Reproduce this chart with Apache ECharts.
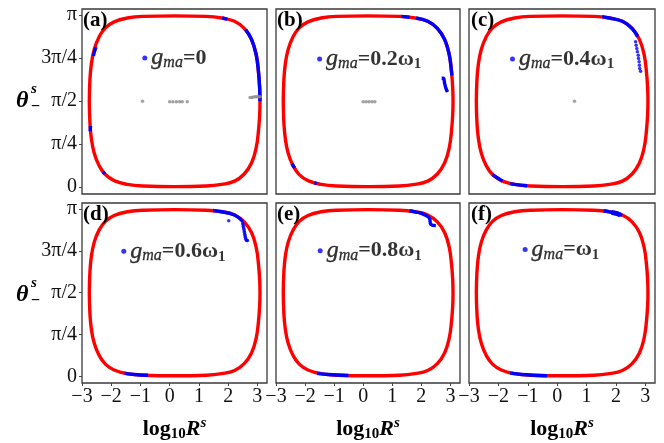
<!DOCTYPE html>
<html><head><meta charset="utf-8">
<script src="https://cdn.jsdelivr.net/npm/echarts@6/dist/echarts.min.js"></script>
<style>html,body{margin:0;padding:0;background:#fff}#c{width:664px;height:443px}</style>
</head><body><div id="c"></div>
<script>
// ---------------- data ----------------
const panelLabels = ['(a)', '(b)', '(c)', '(d)', '(e)', '(f)'];
const gmaText = ['=0', '=0.2ω', '=0.4ω', '=0.6ω', '=0.8ω', '=ω'];
const gmaSub = ['', '1', '1', '1', '1', '1'];
const xTickValues = [-3, -2, -1, 0, 1, 2, 3];
const xTickLabels = ['−3', '−2', '−1', '0', '1', '2', '3'];
const yTickValues = [0, Math.PI / 4, Math.PI / 2, 3 * Math.PI / 4, Math.PI];
const yTickLabels = ['0', 'π/4', 'π/2', '3π/4', 'π'];

// red loop (log10 R^s, theta)
const loopX = [-2.75, -2.73, -2.68, -2.58, -2.42, -2.20, -1.90, -1.45, -0.90, 0.17, 1.25, 1.78, 2.22, 2.55, 2.80, 2.96, 3.04, 3.08, 3.09,
  3.08, 3.04, 2.96, 2.80, 2.55, 2.22, 1.78, 1.25, 0.17, -0.90, -1.45, -1.90, -2.20, -2.42, -2.58, -2.68, -2.73, -2.75];
const loopY = [1.57, 1.95, 2.25, 2.52, 2.74, 2.91, 3.02, 3.09, 3.12, 3.13, 3.12, 3.09, 3.03, 2.90, 2.70, 2.42, 2.10, 1.80, 1.57,
  1.34, 1.04, 0.72, 0.44, 0.24, 0.11, 0.05, 0.02, 0.01, 0.02, 0.05, 0.12, 0.23, 0.40, 0.62, 0.89, 1.19, 1.57];

// blue segments per panel
const blueA = [
  [[-2.61, 2.40], [-2.56, 2.50], [-2.52, 2.56]],
  [[-2.72, 1.02], [-2.71, 1.12]],
  [[-2.28, 0.28], [-2.22, 0.24]],
  [[1.80, 3.09], [1.97, 3.07]],
  [[2.60, 2.88], [2.80, 2.70], [2.96, 2.42], [3.04, 2.10], [3.08, 1.80], [3.09, 1.57]]
];
const blueB = [
  [[1.31, 3.12], [1.59, 3.105]],
  [[1.82, 3.09], [2.22, 3.03], [2.55, 2.90], [2.80, 2.70], [2.96, 2.42], [3.04, 2.10], [3.05, 2.04]],
  [[2.70, 1.99], [2.76, 1.99], [2.80, 1.90], [2.85, 1.80], [2.90, 1.74]],
  [[-2.45, 0.43], [-2.36, 0.35]],
  [[-1.68, 0.08], [-1.60, 0.065]]
];
const blueC = [
  [[1.53, 3.115], [1.78, 3.09], [2.22, 3.03], [2.55, 2.90], [2.74, 2.75]],
  [[-2.20, 0.23], [-1.86, 0.11]],
  [[-1.60, 0.065], [-1.45, 0.05], [-1.02, 0.025]]
];
const blueD = [
  [[1.48, 3.115], [1.78, 3.09], [2.22, 3.03], [2.50, 2.91]],
  [[-1.54, 0.055], [-1.20, 0.035], [-0.74, 0.02]]
];
const blueE = [
  [[1.59, 3.11], [1.78, 3.09], [2.00, 3.06], [2.16, 3.02], [2.28, 2.97], [2.33, 2.85], [2.50, 2.83]],
  [[-1.59, 0.055], [-1.20, 0.035], [-0.51, 0.015]]
];
const blueF = [
  [[1.58, 3.11], [1.78, 3.09], [2.00, 3.06], [2.21, 3.02]],
  [[-1.60, 0.06], [-1.20, 0.035], [-0.35, 0.012]]
];
const blobF = [[1.85, 3.075], [2.00, 3.06], [2.15, 3.03]];

// blue dotted trails
const trailC = [[2.67, 2.655], [2.69, 2.594], [2.71, 2.534], [2.73, 2.472], [2.76, 2.412], [2.77, 2.351], [2.79, 2.289], [2.80, 2.229], [2.81, 2.169], [2.84, 2.119]];
const trailD = [[2.50, 2.88], [2.51, 2.85], [2.52, 2.82], [2.53, 2.79], [2.54, 2.76], [2.55, 2.73], [2.56, 2.70], [2.57, 2.67], [2.58, 2.64], [2.59, 2.61], [2.60, 2.58], [2.62, 2.56], [2.64, 2.55], [2.66, 2.55], [2.02, 2.92]];

// gray points
const grayA = [[-0.93, 1.57], [0.00, 1.56], [0.11, 1.56], [0.23, 1.56], [0.34, 1.56], [0.43, 1.56], [0.60, 1.56],
  [2.75, 1.64], [2.81, 1.64], [2.87, 1.645], [2.93, 1.65], [2.99, 1.65], [3.05, 1.65], [3.10, 1.65]];
const grayB = [[0.00, 1.56], [0.10, 1.56], [0.20, 1.56], [0.30, 1.56], [0.40, 1.56]];
const grayC = [[0.59, 1.57]];

// ---------------- layout ----------------
const blues = [blueA, blueB, blueC, blueD, blueE, blueF];
const trails = [null, null, trailC, trailD, null, null];
const grays = [grayA, grayB, grayC, null, null, null];
const legendAt = [[-0.85, 2.36], [-1.50, 2.34], [-1.52, 2.34], [-1.57, 2.35], [-1.48, 2.36], [-1.09, 2.38]];
const gridBoxes = [
  {left: 82, top: 9, width: 185, height: 185},
  {left: 276, top: 9, width: 184, height: 185},
  {left: 469, top: 9, width: 186, height: 185},
  {left: 82, top: 203, width: 185, height: 185},
  {left: 276, top: 203, width: 184, height: 185},
  {left: 469, top: 203, width: 186, height: 185}
];
const SERIF = 'Liberation Serif';
const RED = '#ff0000', BLUE = '#0000ff', GRAY = '#8c8c8c', INK = '#000';

const loop = loopX.map((x, i) => [x, loopY[i]]);

const grid = gridBoxes.map(b => Object.assign({show: true, borderColor: '#3a3a3a', borderWidth: 1.3, backgroundColor: 'transparent'}, b));

const xAxis = gridBoxes.map((b, i) => {
  const bottom = i >= 3;
  return {
    type: 'value', gridIndex: i, min: -3, max: 3.33, position: 'bottom',
    axisLine: {show: false, onZero: false}, splitLine: {show: false},
    axisTick: {show: bottom, customValues: xTickValues, length: 3, lineStyle: {color: '#444'}},
    axisLabel: {show: bottom, customValues: xTickValues, margin: 4,
      formatter: v => xTickLabels[xTickValues.indexOf(v)],
      fontFamily: SERIF, fontSize: 20, color: '#111'},
    name: bottom ? '{b|log}{sub|10}{bi|R}{sup|s}' : '',
    nameLocation: 'middle', nameGap: 33,
    nameTextStyle: {
      rich: {
        b: {fontFamily: SERIF, fontWeight: 'bold', fontSize: 22, lineHeight: 26, color: INK, verticalAlign: 'middle'},
        bi: {fontFamily: SERIF, fontWeight: 'bold', fontStyle: 'italic', fontSize: 22, lineHeight: 26, color: INK, verticalAlign: 'middle'},
        sub: {fontFamily: SERIF, fontWeight: 'bold', fontSize: 15, lineHeight: 15, color: INK, verticalAlign: 'bottom'},
        sup: {fontFamily: SERIF, fontWeight: 'bold', fontStyle: 'italic', fontSize: 15, lineHeight: 15, color: INK, verticalAlign: 'top'}
      }
    }
  };
});

const yAxis = gridBoxes.map((b, i) => {
  const left = (i % 3) === 0;
  return {
    type: 'value', gridIndex: i, min: -0.125, max: 3.255, position: 'left',
    axisLine: {show: false, onZero: false}, splitLine: {show: false},
    axisTick: {show: left, customValues: yTickValues, length: 3, lineStyle: {color: '#444'}},
    axisLabel: {show: left, customValues: yTickValues, margin: 5,
      formatter: v => {
        let k = 0, d = 1e9;
        yTickValues.forEach((t, j) => { if (Math.abs(t - v) < d) { d = Math.abs(t - v); k = j; } });
        return yTickLabels[k];
      },
      fontFamily: SERIF, fontSize: 20, color: '#111'}
  };
});

const series = [];
for (let i = 0; i < 6; i++) {
  series.push({
    type: 'line', xAxisIndex: i, yAxisIndex: i, data: loop, smooth: 0.45,
    symbol: 'none', lineStyle: {color: RED, width: 3.4}, silent: true, z: 2
  });
  blues[i].forEach(seg => series.push({
    type: 'line', xAxisIndex: i, yAxisIndex: i, data: seg, smooth: 0.4,
    symbol: 'none', lineStyle: {color: BLUE, width: 3.4}, silent: true, z: 3
  }));
  if (trails[i]) series.push({
    type: 'scatter', xAxisIndex: i, yAxisIndex: i, data: trails[i],
    symbolSize: 3.5, itemStyle: {color: BLUE}, silent: true, z: 4
  });
  if (grays[i]) series.push({
    type: 'scatter', xAxisIndex: i, yAxisIndex: i, data: grays[i],
    symbolSize: 3.5, itemStyle: {color: GRAY}, silent: true, z: 4
  });
  series.push({
    type: 'scatter', xAxisIndex: i, yAxisIndex: i, data: [legendAt[i]],
    symbolSize: 5, itemStyle: {color: BLUE}, silent: true, z: 5,
    label: {
      show: true, position: 'right', distance: 4,
      formatter: '{g|g}{s|ma}{b|' + gmaText[i] + '}' + (gmaSub[i] ? '{bs|' + gmaSub[i] + '}' : ''),
      rich: {
        g: {fontFamily: SERIF, fontStyle: 'italic', fontSize: 24, lineHeight: 26, color: INK, verticalAlign: 'middle', textBorderColor: INK, textBorderWidth: 0.4},
        s: {fontFamily: SERIF, fontStyle: 'italic', fontSize: 16, lineHeight: 15, color: INK, verticalAlign: 'bottom', textBorderColor: INK, textBorderWidth: 0.3},
        b: {fontFamily: SERIF, fontWeight: 'bold', fontSize: 22, lineHeight: 26, color: INK, verticalAlign: 'middle'},
        bs: {fontFamily: SERIF, fontWeight: 'bold', fontSize: 15, lineHeight: 15, color: INK, verticalAlign: 'bottom'}
      }
    }
  });
}
series.push({
  type: 'line', xAxisIndex: 5, yAxisIndex: 5, data: blobF, smooth: 0.4,
  symbol: 'none', lineStyle: {color: BLUE, width: 5}, silent: true, z: 3
});

// panel labels and theta axis names as text
const panelPos = [[83, 21], [277, 21], [471, 21], [83, 215], [277, 215], [471, 215]];
const graphic = [];
panelLabels.forEach((t, i) => graphic.push({
  type: 'text', left: panelPos[i][0], top: panelPos[i][1] - 11, z: 10,
  style: {text: t, font: 'bold 21px "Liberation Serif"', fill: INK}
}));
[101, 295].forEach(cy => {
  graphic.push({type: 'text', left: 16, top: cy - 12, z: 10,
    style: {text: 'θ', font: 'italic bold 24px "Liberation Serif"', fill: INK}});
  graphic.push({type: 'text', left: 31, top: cy - 19, z: 10,
    style: {text: 's', font: 'italic bold 15px "Liberation Serif"', fill: INK}});
  graphic.push({type: 'text', left: 31, top: cy - 2, z: 10,
    style: {text: '−', font: 'bold 16px "Liberation Serif"', fill: INK}});
});

const chart = echarts.init(document.getElementById('c'), null, {renderer: 'canvas'});
chart.setOption({
  animation: false,
  backgroundColor: '#fff',
  grid, xAxis, yAxis, series, graphic
});
</script>
</body></html>
